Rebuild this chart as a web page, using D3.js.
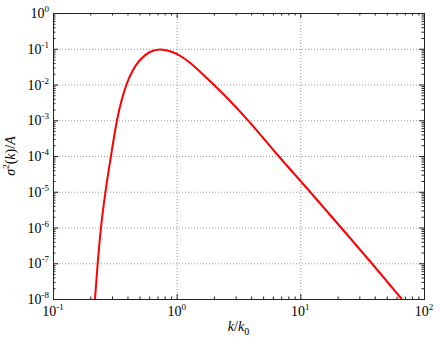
<!DOCTYPE html>
<meta charset="utf-8">
<style>
body { margin: 0; background: #fff; }
.grid line { stroke: #999; stroke-width: 1px; stroke-dasharray: 1,2; }
.grid path { display: none; }
.ax path { stroke: #222; stroke-width: 1px; fill: none; }
.ax line { stroke: #222; stroke-width: 1px; }
.curve { fill: none; stroke: #ff0000; stroke-width: 2px; }
</style>
<body>
<script src="https://d3js.org/d3.v7.min.js"></script>
<script>

// values (k/k0 and sigma^2(k)/A)
var kVals = [0.2186, 0.2298, 0.2444, 0.2658, 0.2944, 0.3292, 0.3593, 0.393, 0.4435, 0.5052,
             0.6085, 0.733, 0.8832, 1.0, 1.168, 1.363, 1.633, 1.978, 2.538, 3.774,
             6.661, 11.97, 21.33, 37.76, 66.01];
var sigVals = [1e-8, 1e-7, 1e-6, 1e-5, 1e-4, 1e-3, 0.003685, 0.01, 0.02544, 0.04845,
               0.0811, 0.0953, 0.0854, 0.0722, 0.05167, 0.034, 0.01905, 0.01013, 0.004329, 0.000997,
               1e-4, 1e-5, 1e-6, 1e-7, 1e-8];

var xTickExp = [-1, 0, 1, 2];
var yTickExp = [-8, -7, -6, -5, -4, -3, -2, -1, 0];

var serif = "'Liberation Serif', 'Times New Roman', serif";

var margin = {top: 13, right: 17, bottom: 42, left: 53},
    width = 441 - margin.left - margin.right,
    height = 341 - margin.top - margin.bottom;

var data = kVals.map(function(k, i) { return {k: k, s: sigVals[i]}; });

var x = d3.scaleLog().domain([0.1, 100]).range([0, width]);
var y = d3.scaleLog().domain([1e-8, 1]).range([height, 0]);

var xMajor = xTickExp.map(function(e) { return Math.pow(10, e); });
var yMajor = yTickExp.map(function(e) { return Math.pow(10, e); });
var xMinor = [], yMinor = [];
xTickExp.slice(0, -1).forEach(function(e) {
  for (var m = 2; m < 10; m++) xMinor.push(m * Math.pow(10, e));
});
yTickExp.slice(0, -1).forEach(function(e) {
  for (var m = 2; m < 10; m++) yMinor.push(m * Math.pow(10, e));
});

var svg = d3.select("body").append("svg")
    .attr("width", 441)
    .attr("height", 341)
  .append("g")
    .attr("transform", "translate(" + margin.left + "," + margin.top + ")");

// grid
svg.append("g").attr("class", "grid")
    .attr("transform", "translate(0," + height + ")")
    .call(d3.axisBottom(x).tickValues(xMajor.slice(1, -1)).tickSize(-height).tickFormat(""));
svg.append("g").attr("class", "grid")
    .call(d3.axisLeft(y).tickValues(yMajor.slice(1, -1)).tickSize(-width).tickFormat(""));

// curve
svg.append("clipPath").attr("id", "clip")
  .append("rect").attr("width", width).attr("height", height);

var line = d3.line()
    .x(function(d) { return x(d.k); })
    .y(function(d) { return y(d.s); })
    .curve(d3.curveMonotoneX);

svg.append("path")
    .datum(data)
    .attr("class", "curve")
    .attr("clip-path", "url(#clip)")
    .attr("d", line);

// frame + inward ticks on all four sides
function ticks(g, axisFn, major, minor) {
  g.call(axisFn().tickValues(major).tickSize(-5).tickFormat(""));
  var m = g.append("g");
  m.call(axisFn().tickValues(minor).tickSize(-2.5).tickFormat(""));
  m.select(".domain").remove();
}
var gb = svg.append("g").attr("class", "ax").attr("transform", "translate(0," + height + ")");
ticks(gb, function() { return d3.axisBottom(x); }, xMajor, xMinor);
var gt = svg.append("g").attr("class", "ax");
ticks(gt, function() { return d3.axisTop(x); }, xMajor, xMinor);
var gl = svg.append("g").attr("class", "ax");
ticks(gl, function() { return d3.axisLeft(y); }, yMajor, yMinor);
var gr = svg.append("g").attr("class", "ax").attr("transform", "translate(" + width + ",0)");
ticks(gr, function() { return d3.axisRight(y); }, yMajor, yMinor);
svg.selectAll(".ax text").remove();

// tick labels as 10^n
function power(sel, e) {
  sel.append("tspan").text("10");
  sel.append("tspan").attr("dy", -6).attr("font-size", 9).text(e);
}
xTickExp.forEach(function(e) {
  var t = svg.append("text")
      .attr("font-family", serif).attr("font-size", 14)
      .attr("x", x(Math.pow(10, e)))
      .attr("y", height + 17)
      .attr("text-anchor", "middle");
  power(t, e);
});
yTickExp.forEach(function(e) {
  var t = svg.append("text")
      .attr("font-family", serif).attr("font-size", 14)
      .attr("x", -4)
      .attr("y", y(Math.pow(10, e)) + 5)
      .attr("text-anchor", "end");
  power(t, e);
});

// axis titles
var xl = svg.append("text")
    .attr("font-family", serif).attr("font-size", 14)
    .attr("x", width / 2)
    .attr("y", height + 32)
    .attr("text-anchor", "middle");
xl.append("tspan").attr("font-style", "italic").text("k");
xl.append("tspan").text("/");
xl.append("tspan").attr("font-style", "italic").text("k");
xl.append("tspan").attr("dy", 4).attr("font-size", 10).text("0");

var yl = svg.append("text")
    .attr("font-family", serif).attr("font-size", 14)
    .attr("transform", "translate(" + (-38) + "," + (height / 2) + ") rotate(-90)")
    .attr("text-anchor", "middle");
yl.append("tspan").attr("font-style", "italic").text("σ");
yl.append("tspan").attr("dy", -6).attr("font-size", 9).text("2");
yl.append("tspan").attr("dy", 6).text("(");
yl.append("tspan").attr("font-style", "italic").text("k");
yl.append("tspan").text(")/");
yl.append("tspan").attr("font-style", "italic").text("A");

</script>
</body>
